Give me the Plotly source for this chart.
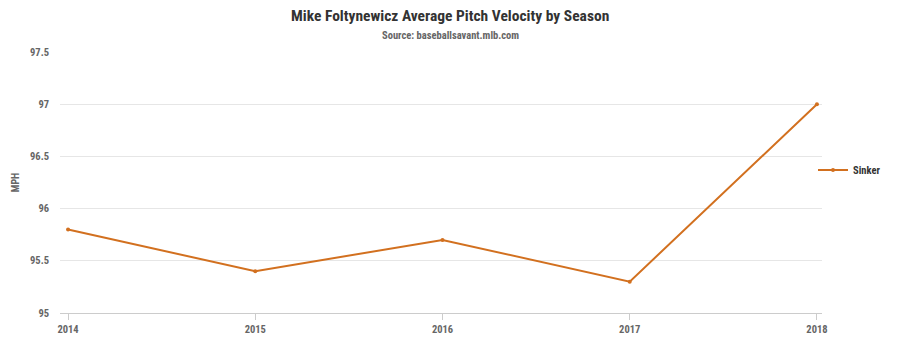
import plotly.graph_objects as go

seasons = [2014, 2015, 2016, 2017, 2018]
sinker_mph = [95.8, 95.4, 95.7, 95.3, 97.0]
y_ticks = [95, 95.5, 96, 96.5, 97, 97.5]
y_tick_labels = ["<b>95</b>", "<b>95.5</b>", "<b>96</b>", "<b>96.5</b>", "<b>97</b>", "<b>97.5</b>"]
x_tick_labels = ["<b>%d</b>" % s for s in seasons]

orange = "#d2701f"
font_family = "Roboto Condensed, Roboto, Arial Narrow, sans-serif"

fig = go.Figure()
fig.add_trace(go.Scatter(
    x=seasons, y=sinker_mph, mode="lines+markers", name="<b>Sinker</b>",
    showlegend=True,
    line=dict(color=orange, width=2),
    marker=dict(color=orange, size=4),
))

fig.update_layout(
    width=900, height=343,
    margin=dict(l=60, r=78, t=52, b=30, autoexpand=False),
    paper_bgcolor="white", plot_bgcolor="white",
    font=dict(family=font_family, color="#555555"),
    showlegend=True,
    xaxis=dict(
        range=[2013.957, 2018.027], tickvals=seasons, ticktext=x_tick_labels,
        showgrid=False, showline=True, linecolor="#cccccc", linewidth=1,
        ticks="outside", ticklen=6, tickcolor="#cccccc",
        tickfont=dict(size=10.5, color="#666666", family=font_family),
        zeroline=False, automargin=False,
    ),
    yaxis=dict(
        range=[95, 97.5], tickvals=y_ticks, ticktext=y_tick_labels,
        showgrid=True, gridcolor="#e6e6e6", gridwidth=1,
        showline=False, zeroline=False, ticks="", ticklabelstandoff=10,
        tickfont=dict(size=10.5, color="#666666", family=font_family),
        title=dict(text="<b>MPH</b>", font=dict(size=10, color="#666666"), standoff=8),
        automargin=False,
    ),
    legend=dict(
        x=(813 - 60) / 762, xanchor="left", y=(313 - 170) / 261, yanchor="middle",
        font=dict(size=10.5, color="#333333", family=font_family),
        bgcolor="rgba(0,0,0,0)", itemwidth=30,
    ),
    annotations=[
        dict(text="<b>Mike Foltynewicz Average Pitch Velocity by Season</b>",
             xref="paper", yref="paper", x=0.5 + (78 - 60) / 2 / 762, y=1 + (52 - 16) / 261,
             xanchor="center", yanchor="middle", showarrow=False,
             font=dict(size=15.5, color="#333333", family=font_family)),
        dict(text="<b>Source: baseballsavant.mlb.com</b>",
             xref="paper", yref="paper", x=0.5 + (78 - 60) / 2 / 762, y=1 + (52 - 36) / 261,
             xanchor="center", yanchor="middle", showarrow=False,
             font=dict(size=10.5, color="#666666", family=font_family)),
    ],
)

fig.write_html("out.html")
